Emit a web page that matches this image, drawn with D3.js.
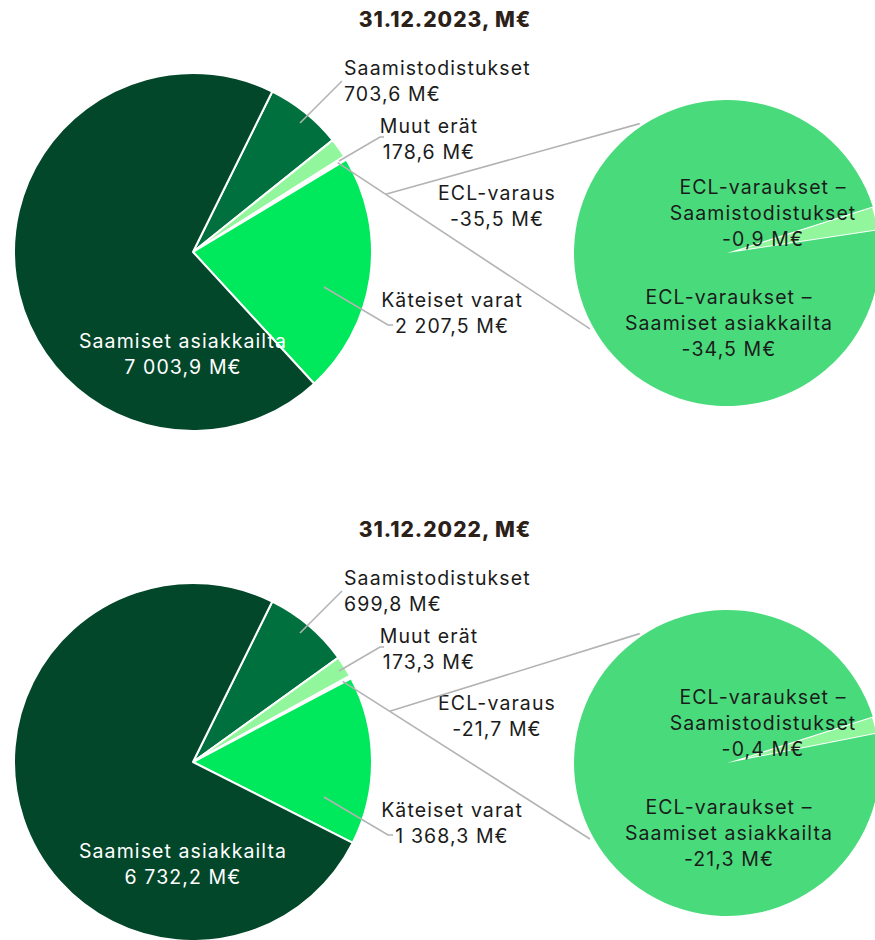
<!DOCTYPE html>
<html>
<head>
<meta charset="utf-8">
<script src="https://cdn.jsdelivr.net/npm/d3@7"></script>
<style>
  html, body { margin: 0; padding: 0; background: #ffffff; }
  svg { display: block; }
  text { font-family: Inter, "Noto Sans", sans-serif; }
</style>
</head>
<body>
<svg id="chart" width="875" height="940"></svg>
<script>
// Balance sheet breakdown, M€
const titles = ["31.12.2023, M€", "31.12.2022, M€"];
const categories = ["Saamiset asiakkailta", "Saamistodistukset", "Muut erät", "ECL-varaus", "Käteiset varat"];
const values2023 = [7003.9, 703.6, 178.6, -35.5, 2207.5];
const values2022 = [6732.2, 699.8, 173.3, -21.7, 1368.3];

// Split of the ECL provision
const eclCategories = ["ECL-varaukset – Saamiset asiakkailta", "ECL-varaukset – Saamistodistukset"];
const eclLines = [["ECL-varaukset –", "Saamiset asiakkailta"], ["ECL-varaukset –", "Saamistodistukset"]];
const ecl2023 = [-34.5, -0.9];
const ecl2022 = [-21.3, -0.4];

const colors = {
  "Saamiset asiakkailta": "#03472b",
  "Saamistodistukset": "#00713e",
  "Muut erät": "#92f69d",
  "ECL-varaus": "#ffffff",
  "Käteiset varat": "#00e85b"
};
const eclColors = ["#49db7b", "#92f69d"];

const fi = d3.formatLocale({ decimal: ",", thousands: "\u00a0", grouping: [3], currency: ["", "\u00a0M€"], minus: "-" });
const fmt = fi.format(",.1f");
const label = v => fmt(v) + " M€";

const svg = d3.select("#chart");
const deg = Math.PI / 180;

// Layout of one pie-of-pie panel (relative to the main pie centre)
const R = 179, r2 = 153;
const mainCx = 193, subDx = 534, subDy = 1;
const panelTop = [252, 762];
const titleDy = -225;
const fontSize = 19.5, spacing = 1.1;

// Label placement per category, relative to the main pie centre
const labelLayout = {
  "Saamistodistukset": { x: 151, y: -177, anchor: "start", fill: "#1b1b1b", leader: [[107, -129], [149, -171]] },
  "Muut erät": { x: 236, y: -119, anchor: "middle", fill: "#1b1b1b", leader: [[146, -91], [187, -115], [191, -115]] },
  "ECL-varaus": { x: 304, y: -52, anchor: "middle", fill: "#1b1b1b", leader: null },
  "Käteiset varat": { x: 259, y: 55, anchor: "middle", fill: "#1b1b1b", leader: [[131, 35], [195, 73], [200, 73]] },
  "Saamiset asiakkailta": { x: -10, y: 96, anchor: "middle", fill: "#ffffff", leader: null }
};
const eclLayout = [
  { x: 2, y: 51 },
  { x: 36, y: -59 }
];
const lineH = 26;

function drawPanel(values, eclValues, title, cy) {
  const g = svg.append("g").attr("transform", `translate(${mainCx},${cy})`);

  svg.append("text")
    .attr("x", 445).attr("y", cy + titleDy)
    .attr("text-anchor", "middle")
    .attr("font-size", 21).attr("font-weight", 800)
    .attr("letter-spacing", 1)
    .attr("fill", "#2b2118")
    .text(title);

  // Main pie: starts with Saamistodistukset, clockwise
  const order = [1, 2, 3, 4, 0];
  const data = order.map(i => ({ name: categories[i], value: values[i] }));
  const a0 = 26.3 * deg;
  const pie = d3.pie().sort(null).value(d => Math.abs(d.value)).startAngle(a0).endAngle(a0 + 2 * Math.PI);
  const arcs = pie(data);
  const arc = d3.arc().innerRadius(0).outerRadius(R);

  g.selectAll("path.slice").data(arcs).join("path")
    .attr("class", "slice")
    .attr("d", arc)
    .attr("fill", d => colors[d.data.name])
    .attr("stroke", "#ffffff")
    .attr("stroke-width", 2)
    .attr("stroke-linejoin", "round");

  // Sub pie for the ECL split
  const sub = svg.append("g").attr("transform", `translate(${mainCx + subDx},${cy + subDy})`);
  const subData = [1, 0].map(i => ({ idx: i, value: eclValues[i] }));
  const b0 = 72.3 * deg;
  const subPie = d3.pie().sort(null).value(d => Math.abs(d.value)).startAngle(b0).endAngle(b0 + 2 * Math.PI);
  const subArcs = subPie(subData);
  const subArc = d3.arc().innerRadius(0).outerRadius(r2);
  sub.selectAll("path").data(subArcs).join("path")
    .attr("d", subArc)
    .attr("fill", d => eclColors[d.data.idx])
    .attr("stroke", "#ffffff")
    .attr("stroke-width", d => d.data.idx === 1 ? 2 : 0);

  // Connector lines from the ECL slice to the sub pie
  const ecl = arcs.find(d => d.data.name === "ECL-varaus");
  const em = (ecl.startAngle + ecl.endAngle) / 2;
  const pt = (cx, cyy, rad, ang) => [cx + rad * Math.sin(ang), cyy - rad * Math.cos(ang)];
  const pA0 = pt(mainCx, cy, 0.95 * R, em);
  const subCx = mainCx + subDx, subCy = cy + subDy;
  const pA1 = pt(subCx, subCy, 1.024 * r2, 241 * deg);
  const t = 0.19;
  const pB0 = [pA0[0] + (pA1[0] - pA0[0]) * t, pA0[1] + (pA1[1] - pA0[1]) * t];
  const pB1 = pt(subCx, subCy, 1.02 * r2, 326 * deg);
  const line = d3.line();
  svg.append("path").attr("d", line([pA0, pA1])).attr("fill", "none").attr("stroke", "#b3b3b3").attr("stroke-width", 1.6);
  svg.append("path").attr("d", line([pB0, pB1])).attr("fill", "none").attr("stroke", "#b3b3b3").attr("stroke-width", 1.6);

  // Main pie labels and leaders
  categories.forEach((name, i) => {
    const L = labelLayout[name];
    if (L.leader) {
      g.append("path").attr("d", line(L.leader))
        .attr("fill", "none").attr("stroke", "#b3b3b3").attr("stroke-width", 1.6);
    }
    const tx = g.append("text")
      .attr("x", L.x).attr("y", L.y)
      .attr("text-anchor", L.anchor)
      .attr("font-size", fontSize)
      .attr("letter-spacing", spacing)
      .attr("fill", L.fill);
    tx.append("tspan").attr("x", L.x).text(name);
    tx.append("tspan").attr("x", L.x).attr("dy", lineH).text(label(values[i]));
  });

  // Sub pie labels
  eclValues.forEach((v, i) => {
    const L = eclLayout[i];
    const tx = sub.append("text")
      .attr("x", L.x).attr("y", L.y)
      .attr("text-anchor", "middle")
      .attr("font-size", fontSize)
      .attr("letter-spacing", spacing)
      .attr("fill", "#1b1b1b");
    eclLines[i].forEach((s, k) => tx.append("tspan").attr("x", L.x).attr("dy", k === 0 ? 0 : lineH).text(s));
    tx.append("tspan").attr("x", L.x).attr("dy", lineH).text(label(v));
  });
}

drawPanel(values2023, ecl2023, titles[0], panelTop[0]);
drawPanel(values2022, ecl2022, titles[1], panelTop[1]);
</script>
</body>
</html>
